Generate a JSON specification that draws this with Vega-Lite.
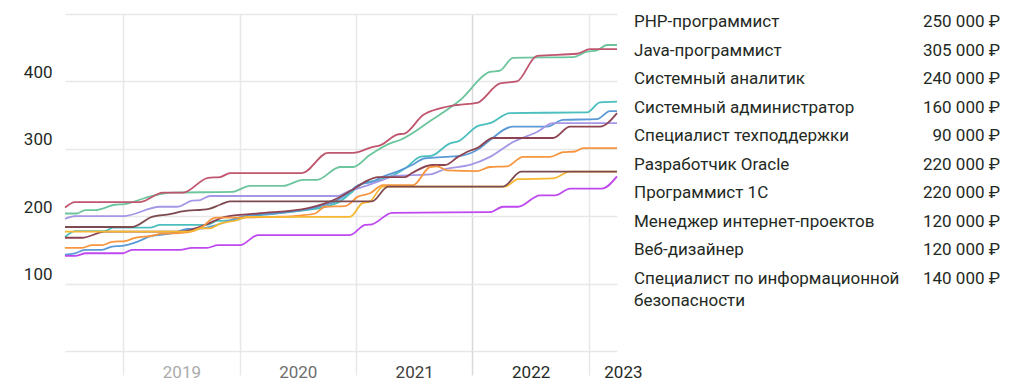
{
  "$schema": "https://vega.github.io/schema/vega-lite/v6.json",
  "padding": {"left": 23, "top": 13, "right": 10, "bottom": 5},
  "bounds": "flush",
  "spacing": 17,
  "config": {
    "view": {"stroke": null},
    "font": "Roboto",
    "locale": {"number": {"decimal": ",", "thousands": " ", "grouping": [3], "currency": ["", " ₽"]}}
  },
  "datasets": {
    "lines": [
      {"job": "PHP-программист", "year": 2018.500, "v": 204},
      {"job": "PHP-программист", "year": 2018.603, "v": 204},
      {"job": "PHP-программист", "year": 2018.672, "v": 209},
      {"job": "PHP-программист", "year": 2018.758, "v": 209},
      {"job": "PHP-программист", "year": 2018.930, "v": 217},
      {"job": "PHP-программист", "year": 2019.015, "v": 218},
      {"job": "PHP-программист", "year": 2019.187, "v": 227},
      {"job": "PHP-программист", "year": 2019.273, "v": 231},
      {"job": "PHP-программист", "year": 2019.419, "v": 235},
      {"job": "PHP-программист", "year": 2019.935, "v": 236},
      {"job": "PHP-программист", "year": 2020.089, "v": 245},
      {"job": "PHP-программист", "year": 2020.373, "v": 245},
      {"job": "PHP-программист", "year": 2020.545, "v": 254},
      {"job": "PHP-программист", "year": 2020.665, "v": 254},
      {"job": "PHP-программист", "year": 2020.863, "v": 273},
      {"job": "PHP-программист", "year": 2020.974, "v": 273},
      {"job": "PHP-программист", "year": 2021.120, "v": 291},
      {"job": "PHP-программист", "year": 2021.292, "v": 308},
      {"job": "PHP-программист", "year": 2021.378, "v": 313},
      {"job": "PHP-программист", "year": 2021.653, "v": 343},
      {"job": "PHP-программист", "year": 2021.893, "v": 372},
      {"job": "PHP-программист", "year": 2022.151, "v": 414},
      {"job": "PHP-программист", "year": 2022.237, "v": 416},
      {"job": "PHP-программист", "year": 2022.349, "v": 435},
      {"job": "PHP-программист", "year": 2022.864, "v": 436},
      {"job": "PHP-программист", "year": 2022.985, "v": 444},
      {"job": "PHP-программист", "year": 2023.070, "v": 446},
      {"job": "PHP-программист", "year": 2023.156, "v": 454},
      {"job": "PHP-программист", "year": 2023.242, "v": 454},

      {"job": "Java-программист", "year": 2018.500, "v": 213},
      {"job": "Java-программист", "year": 2018.586, "v": 221},
      {"job": "Java-программист", "year": 2019.144, "v": 221},
      {"job": "Java-программист", "year": 2019.342, "v": 235},
      {"job": "Java-программист", "year": 2019.514, "v": 235},
      {"job": "Java-программист", "year": 2019.729, "v": 257},
      {"job": "Java-программист", "year": 2019.832, "v": 258},
      {"job": "Java-программист", "year": 2019.918, "v": 264},
      {"job": "Java-программист", "year": 2020.536, "v": 264},
      {"job": "Java-программист", "year": 2020.759, "v": 294},
      {"job": "Java-программист", "year": 2020.974, "v": 294},
      {"job": "Java-программист", "year": 2021.146, "v": 303},
      {"job": "Java-программист", "year": 2021.206, "v": 305},
      {"job": "Java-программист", "year": 2021.352, "v": 321},
      {"job": "Java-программист", "year": 2021.421, "v": 323},
      {"job": "Java-программист", "year": 2021.576, "v": 350},
      {"job": "Java-программист", "year": 2021.722, "v": 360},
      {"job": "Java-программист", "year": 2021.868, "v": 365},
      {"job": "Java-программист", "year": 2022.040, "v": 368},
      {"job": "Java-программист", "year": 2022.237, "v": 397},
      {"job": "Java-программист", "year": 2022.383, "v": 400},
      {"job": "Java-программист", "year": 2022.555, "v": 438},
      {"job": "Java-программист", "year": 2022.899, "v": 441},
      {"job": "Java-программист", "year": 2023.010, "v": 448},
      {"job": "Java-программист", "year": 2023.242, "v": 448},

      {"job": "Системный аналитик", "year": 2018.500, "v": 169},
      {"job": "Системный аналитик", "year": 2018.586, "v": 178},
      {"job": "Системный аналитик", "year": 2018.844, "v": 178},
      {"job": "Системный аналитик", "year": 2018.912, "v": 183},
      {"job": "Системный аналитик", "year": 2019.230, "v": 183},
      {"job": "Системный аналитик", "year": 2019.316, "v": 187},
      {"job": "Системный аналитик", "year": 2019.720, "v": 187},
      {"job": "Системный аналитик", "year": 2019.806, "v": 193},
      {"job": "Системный аналитик", "year": 2019.943, "v": 194},
      {"job": "Системный аналитик", "year": 2020.064, "v": 199},
      {"job": "Системный аналитик", "year": 2020.304, "v": 204},
      {"job": "Системный аналитик", "year": 2020.519, "v": 208},
      {"job": "Системный аналитик", "year": 2020.734, "v": 214},
      {"job": "Системный аналитик", "year": 2020.863, "v": 222},
      {"job": "Системный аналитик", "year": 2020.966, "v": 236},
      {"job": "Системный аналитик", "year": 2021.052, "v": 248},
      {"job": "Системный аналитик", "year": 2021.206, "v": 254},
      {"job": "Системный аналитик", "year": 2021.335, "v": 262},
      {"job": "Системный аналитик", "year": 2021.438, "v": 273},
      {"job": "Системный аналитик", "year": 2021.550, "v": 288},
      {"job": "Системный аналитик", "year": 2021.653, "v": 290},
      {"job": "Системный аналитик", "year": 2021.808, "v": 308},
      {"job": "Системный аналитик", "year": 2021.876, "v": 311},
      {"job": "Системный аналитик", "year": 2022.048, "v": 334},
      {"job": "Системный аналитик", "year": 2022.151, "v": 338},
      {"job": "Системный аналитик", "year": 2022.323, "v": 353},
      {"job": "Системный аналитик", "year": 2022.985, "v": 354},
      {"job": "Системный аналитик", "year": 2023.096, "v": 369},
      {"job": "Системный аналитик", "year": 2023.242, "v": 370},

      {"job": "Системный администратор", "year": 2018.500, "v": 143},
      {"job": "Системный администратор", "year": 2018.586, "v": 145},
      {"job": "Системный администратор", "year": 2018.672, "v": 150},
      {"job": "Системный администратор", "year": 2018.818, "v": 150},
      {"job": "Системный администратор", "year": 2018.904, "v": 155},
      {"job": "Системный администратор", "year": 2018.990, "v": 156},
      {"job": "Системный администратор", "year": 2019.119, "v": 162},
      {"job": "Системный администратор", "year": 2019.230, "v": 170},
      {"job": "Системный администратор", "year": 2019.428, "v": 175},
      {"job": "Системный администратор", "year": 2019.548, "v": 181},
      {"job": "Системный администратор", "year": 2019.686, "v": 182},
      {"job": "Системный администратор", "year": 2019.806, "v": 187},
      {"job": "Системный администратор", "year": 2019.918, "v": 194},
      {"job": "Системный администратор", "year": 2020.046, "v": 200},
      {"job": "Системный администратор", "year": 2020.304, "v": 204},
      {"job": "Системный администратор", "year": 2020.536, "v": 209},
      {"job": "Системный администратор", "year": 2020.674, "v": 214},
      {"job": "Системный администратор", "year": 2020.820, "v": 222},
      {"job": "Системный администратор", "year": 2020.931, "v": 234},
      {"job": "Системный администратор", "year": 2021.017, "v": 246},
      {"job": "Системный администратор", "year": 2021.137, "v": 251},
      {"job": "Системный администратор", "year": 2021.223, "v": 258},
      {"job": "Системный администратор", "year": 2021.395, "v": 269},
      {"job": "Системный администратор", "year": 2021.481, "v": 276},
      {"job": "Системный администратор", "year": 2021.593, "v": 286},
      {"job": "Системный администратор", "year": 2021.765, "v": 288},
      {"job": "Системный администратор", "year": 2021.911, "v": 290},
      {"job": "Системный администратор", "year": 2022.065, "v": 301},
      {"job": "Системный администратор", "year": 2022.151, "v": 313},
      {"job": "Системный администратор", "year": 2022.349, "v": 333},
      {"job": "Системный администратор", "year": 2022.641, "v": 333},
      {"job": "Системный администратор", "year": 2022.778, "v": 343},
      {"job": "Системный администратор", "year": 2023.070, "v": 344},
      {"job": "Системный администратор", "year": 2023.182, "v": 356},
      {"job": "Системный администратор", "year": 2023.242, "v": 356},

      {"job": "Специалист техподдержки", "year": 2018.500, "v": 141},
      {"job": "Специалист техподдержки", "year": 2018.586, "v": 141},
      {"job": "Специалист техподдержки", "year": 2018.680, "v": 145},
      {"job": "Специалист техподдержки", "year": 2018.998, "v": 145},
      {"job": "Специалист техподдержки", "year": 2019.076, "v": 150},
      {"job": "Специалист техподдержки", "year": 2019.488, "v": 150},
      {"job": "Специалист техподдержки", "year": 2019.591, "v": 153},
      {"job": "Специалист техподдержки", "year": 2019.720, "v": 153},
      {"job": "Специалист техподдержки", "year": 2019.814, "v": 157},
      {"job": "Специалист техподдержки", "year": 2020.003, "v": 157},
      {"job": "Специалист техподдержки", "year": 2020.158, "v": 172},
      {"job": "Специалист техподдержки", "year": 2020.948, "v": 172},
      {"job": "Специалист техподдержки", "year": 2021.077, "v": 187},
      {"job": "Специалист техподдержки", "year": 2021.137, "v": 188},
      {"job": "Специалист техподдержки", "year": 2021.309, "v": 205},
      {"job": "Специалист техподдержки", "year": 2022.151, "v": 206},
      {"job": "Специалист техподдержки", "year": 2022.263, "v": 214},
      {"job": "Специалист техподдержки", "year": 2022.392, "v": 214},
      {"job": "Специалист техподдержки", "year": 2022.581, "v": 231},
      {"job": "Специалист техподдержки", "year": 2022.710, "v": 231},
      {"job": "Специалист техподдержки", "year": 2022.839, "v": 241},
      {"job": "Специалист техподдержки", "year": 2023.113, "v": 241},
      {"job": "Специалист техподдержки", "year": 2023.242, "v": 259},

      {"job": "Разработчик Oracle", "year": 2018.500, "v": 196},
      {"job": "Разработчик Oracle", "year": 2018.586, "v": 200},
      {"job": "Разработчик Oracle", "year": 2018.998, "v": 200},
      {"job": "Разработчик Oracle", "year": 2019.316, "v": 214},
      {"job": "Разработчик Oracle", "year": 2019.462, "v": 214},
      {"job": "Разработчик Oracle", "year": 2019.591, "v": 223},
      {"job": "Разработчик Oracle", "year": 2019.660, "v": 224},
      {"job": "Разработчик Oracle", "year": 2019.746, "v": 230},
      {"job": "Разработчик Oracle", "year": 2020.837, "v": 230},
      {"job": "Разработчик Oracle", "year": 2020.948, "v": 238},
      {"job": "Разработчик Oracle", "year": 2021.034, "v": 242},
      {"job": "Разработчик Oracle", "year": 2021.232, "v": 254},
      {"job": "Разработчик Oracle", "year": 2021.335, "v": 260},
      {"job": "Разработчик Oracle", "year": 2021.636, "v": 262},
      {"job": "Разработчик Oracle", "year": 2021.765, "v": 270},
      {"job": "Разработчик Oracle", "year": 2021.979, "v": 276},
      {"job": "Разработчик Oracle", "year": 2022.151, "v": 288},
      {"job": "Разработчик Oracle", "year": 2022.349, "v": 310},
      {"job": "Разработчик Oracle", "year": 2022.555, "v": 325},
      {"job": "Разработчик Oracle", "year": 2022.692, "v": 338},
      {"job": "Разработчик Oracle", "year": 2023.242, "v": 338},

      {"job": "Программист 1С", "year": 2018.500, "v": 168},
      {"job": "Программист 1С", "year": 2018.646, "v": 168},
      {"job": "Программист 1С", "year": 2018.844, "v": 177},
      {"job": "Программист 1С", "year": 2019.488, "v": 177},
      {"job": "Программист 1С", "year": 2019.703, "v": 187},
      {"job": "Программист 1С", "year": 2019.875, "v": 199},
      {"job": "Программист 1С", "year": 2020.158, "v": 204},
      {"job": "Программист 1С", "year": 2020.588, "v": 212},
      {"job": "Программист 1С", "year": 2020.734, "v": 219},
      {"job": "Программист 1С", "year": 2020.845, "v": 227},
      {"job": "Программист 1С", "year": 2020.966, "v": 239},
      {"job": "Программист 1С", "year": 2021.077, "v": 251},
      {"job": "Программист 1С", "year": 2021.189, "v": 258},
      {"job": "Программист 1С", "year": 2021.421, "v": 258},
      {"job": "Программист 1С", "year": 2021.481, "v": 264},
      {"job": "Программист 1С", "year": 2021.653, "v": 276},
      {"job": "Программист 1С", "year": 2021.765, "v": 276},
      {"job": "Программист 1С", "year": 2021.876, "v": 288},
      {"job": "Программист 1С", "year": 2021.962, "v": 296},
      {"job": "Программист 1С", "year": 2022.040, "v": 301},
      {"job": "Программист 1С", "year": 2022.177, "v": 316},
      {"job": "Программист 1С", "year": 2022.692, "v": 316},
      {"job": "Программист 1С", "year": 2022.839, "v": 333},
      {"job": "Программист 1С", "year": 2023.096, "v": 333},
      {"job": "Программист 1С", "year": 2023.242, "v": 353},

      {"job": "Менеджер интернет-проектов", "year": 2018.500, "v": 153},
      {"job": "Менеджер интернет-проектов", "year": 2018.646, "v": 153},
      {"job": "Менеджер интернет-проектов", "year": 2018.732, "v": 157},
      {"job": "Менеджер интернет-проектов", "year": 2018.818, "v": 157},
      {"job": "Менеджер интернет-проектов", "year": 2018.904, "v": 162},
      {"job": "Менеджер интернет-проектов", "year": 2019.015, "v": 163},
      {"job": "Менеджер интернет-проектов", "year": 2019.101, "v": 168},
      {"job": "Менеджер интернет-проектов", "year": 2019.247, "v": 171},
      {"job": "Менеджер интернет-проектов", "year": 2019.333, "v": 174},
      {"job": "Менеджер интернет-проектов", "year": 2019.479, "v": 175},
      {"job": "Менеджер интернет-проектов", "year": 2019.600, "v": 178},
      {"job": "Менеджер интернет-проектов", "year": 2019.686, "v": 185},
      {"job": "Менеджер интернет-проектов", "year": 2019.763, "v": 196},
      {"job": "Менеджер интернет-проектов", "year": 2019.806, "v": 198},
      {"job": "Менеджер интернет-проектов", "year": 2020.003, "v": 198},
      {"job": "Менеджер интернет-проектов", "year": 2020.304, "v": 199},
      {"job": "Менеджер интернет-проектов", "year": 2020.519, "v": 201},
      {"job": "Менеджер интернет-проектов", "year": 2020.648, "v": 204},
      {"job": "Менеджер интернет-проектов", "year": 2020.734, "v": 214},
      {"job": "Менеджер интернет-проектов", "year": 2020.906, "v": 215},
      {"job": "Менеджер интернет-проектов", "year": 2021.017, "v": 229},
      {"job": "Менеджер интернет-проектов", "year": 2021.120, "v": 234},
      {"job": "Менеджер интернет-проектов", "year": 2021.232, "v": 246},
      {"job": "Менеджер интернет-проектов", "year": 2021.490, "v": 246},
      {"job": "Менеджер интернет-проектов", "year": 2021.636, "v": 273},
      {"job": "Менеджер интернет-проектов", "year": 2021.696, "v": 274},
      {"job": "Менеджер интернет-проектов", "year": 2021.782, "v": 268},
      {"job": "Менеджер интернет-проектов", "year": 2022.040, "v": 267},
      {"job": "Менеджер интернет-проектов", "year": 2022.151, "v": 273},
      {"job": "Менеджер интернет-проектов", "year": 2022.297, "v": 274},
      {"job": "Менеджер интернет-проектов", "year": 2022.435, "v": 288},
      {"job": "Менеджер интернет-проектов", "year": 2022.667, "v": 288},
      {"job": "Менеджер интернет-проектов", "year": 2022.778, "v": 295},
      {"job": "Менеджер интернет-проектов", "year": 2022.881, "v": 296},
      {"job": "Менеджер интернет-проектов", "year": 2022.950, "v": 301},
      {"job": "Менеджер интернет-проектов", "year": 2023.242, "v": 301},

      {"job": "Веб-дизайнер", "year": 2018.500, "v": 177},
      {"job": "Веб-дизайнер", "year": 2019.574, "v": 177},
      {"job": "Веб-дизайнер", "year": 2019.660, "v": 182},
      {"job": "Веб-дизайнер", "year": 2019.746, "v": 182},
      {"job": "Веб-дизайнер", "year": 2019.832, "v": 189},
      {"job": "Веб-дизайнер", "year": 2019.978, "v": 194},
      {"job": "Веб-дизайнер", "year": 2020.064, "v": 199},
      {"job": "Веб-дизайнер", "year": 2020.948, "v": 199},
      {"job": "Веб-дизайнер", "year": 2021.052, "v": 219},
      {"job": "Веб-дизайнер", "year": 2021.120, "v": 222},
      {"job": "Веб-дизайнер", "year": 2021.232, "v": 244},
      {"job": "Веб-дизайнер", "year": 2022.280, "v": 244},
      {"job": "Веб-дизайнер", "year": 2022.392, "v": 255},
      {"job": "Веб-дизайнер", "year": 2022.692, "v": 256},
      {"job": "Веб-дизайнер", "year": 2022.839, "v": 266},
      {"job": "Веб-дизайнер", "year": 2023.242, "v": 266},

      {"job": "Специалист по информационной безопасности", "year": 2018.500, "v": 184},
      {"job": "Специалист по информационной безопасности", "year": 2019.076, "v": 184},
      {"job": "Специалист по информационной безопасности", "year": 2019.247, "v": 199},
      {"job": "Специалист по информационной безопасности", "year": 2019.402, "v": 203},
      {"job": "Специалист по информационной безопасности", "year": 2019.505, "v": 207},
      {"job": "Специалист по информационной безопасности", "year": 2019.737, "v": 211},
      {"job": "Специалист по информационной безопасности", "year": 2019.832, "v": 217},
      {"job": "Специалист по информационной безопасности", "year": 2019.918, "v": 222},
      {"job": "Специалист по информационной безопасности", "year": 2021.137, "v": 222},
      {"job": "Специалист по информационной безопасности", "year": 2021.275, "v": 244},
      {"job": "Специалист по информационной безопасности", "year": 2022.263, "v": 244},
      {"job": "Специалист по информационной безопасности", "year": 2022.418, "v": 266},
      {"job": "Специалист по информационной безопасности", "year": 2023.242, "v": 266}
    ],
    "table": [
      {"rank": 1, "name": "PHP-программист", "salary": 250000},
      {"rank": 2, "name": "Java-программист", "salary": 305000},
      {"rank": 3, "name": "Системный аналитик", "salary": 240000},
      {"rank": 4, "name": "Системный администратор", "salary": 160000},
      {"rank": 5, "name": "Специалист техподдержки", "salary": 90000},
      {"rank": 6, "name": "Разработчик Oracle", "salary": 220000},
      {"rank": 7, "name": "Программист 1С", "salary": 220000},
      {"rank": 8, "name": "Менеджер интернет-проектов", "salary": 120000},
      {"rank": 9, "name": "Веб-дизайнер", "salary": 120000},
      {"rank": 10, "name": "Специалист по информационной\nбезопасности", "salary": 140000}
    ]
  },
  "hconcat": [
    {
      "width": 552,
      "height": 337,
      "data": {"name": "lines"},
      "mark": {"type": "line", "interpolate": "monotone", "strokeWidth": 1.8},
      "encoding": {
        "x": {
          "field": "year",
          "type": "quantitative",
          "scale": {"domain": [2018.5, 2023.242], "nice": false, "zero": false},
          "axis": {
            "title": null,
            "values": [2019, 2019.5, 2020, 2020.5, 2021, 2021.5, 2022, 2022.5, 2023, 2023.242],
            "labelExpr": "datum.value % 1 == 0 ? '' : '' + floor(datum.value)",
            "domain": false,
            "grid": true,
            "gridColor": {"condition": [{"test": "datum.value == 2022", "value": "#d9d9d9"}, {"test": "datum.value % 1 == 0", "value": "#e8e8e8"}], "value": "transparent"},
            "gridWidth": 1.5,
            "ticks": true,
            "tickSize": 24,
            "tickWidth": 1.5,
            "tickColor": {"condition": [{"test": "datum.value == 2022", "value": "#d9d9d9"}, {"test": "datum.value % 1 == 0", "value": "#e8e8e8"}], "value": "transparent"},
            "labelPadding": -11,
            "labelFont": "Roboto",
            "labelFontSize": 17,
            "labelColor": {"condition": [{"test": "datum.value < 2020", "value": "#ababab"}, {"test": "datum.value < 2021", "value": "#6e6e6e"}, {"test": "datum.value < 2022", "value": "#404040"}], "value": "#1f2a24"},
            "labelFlush": true,
            "labelFlushOffset": 25,
            "labelOverlap": false,
            "labelBound": false
          }
        },
        "y": {
          "field": "v",
          "type": "quantitative",
          "scale": {"domain": [0, 500], "nice": false, "zero": true},
          "axis": {
            "title": null,
            "values": [0, 100, 200, 300, 400, 500],
            "labelExpr": "datum.value == 0 || datum.value == 500 ? '' : datum.label",
            "domain": false,
            "ticks": false,
            "grid": true,
            "gridColor": "#e8e8e8",
            "gridWidth": 1.5,
            "labelPadding": 13,
            "labelFont": "Roboto",
            "labelFontSize": 17,
            "labelColor": "#1f2a24",
            "labelBaseline": "alphabetic",
            "labelOffset": -4
          }
        },
        "color": {
          "field": "job",
          "type": "nominal",
          "sort": null,
          "scale": {
            "domain": ["PHP-программист", "Java-программист", "Системный аналитик", "Системный администратор", "Специалист техподдержки", "Разработчик Oracle", "Программист 1С", "Менеджер интернет-проектов", "Веб-дизайнер", "Специалист по информационной безопасности"],
            "range": ["#6cc59d", "#c0566e", "#4bbfbd", "#5b9ad6", "#bf49ee", "#a597e6", "#8c4452", "#f7963f", "#f6b731", "#7d4a4f"]
          },
          "legend": null
        }
      }
    },
    {
      "width": 366,
      "height": 257,
      "data": {"name": "table"},
      "layer": [
        {
          "mark": {"type": "text", "align": "left", "baseline": "alphabetic", "dy": 13, "font": "Roboto", "fontSize": 17, "color": "#1f2a24", "lineBreak": "\n", "lineHeight": 22},
          "encoding": {
            "y": {"field": "rank", "type": "ordinal", "scale": {"type": "point", "padding": 0}, "axis": null},
            "x": {"datum": 0, "type": "quantitative", "scale": {"domain": [0, 1], "nice": false, "zero": false}, "axis": null},
            "text": {"field": "name", "type": "nominal"}
          }
        },
        {
          "mark": {"type": "text", "align": "right", "baseline": "alphabetic", "dy": 13, "font": "Roboto", "fontSize": 17, "color": "#1f2a24"},
          "encoding": {
            "y": {"field": "rank", "type": "ordinal", "scale": {"type": "point", "padding": 0}, "axis": null},
            "x": {"datum": 1, "type": "quantitative", "scale": {"domain": [0, 1], "nice": false, "zero": false}, "axis": null},
            "text": {"field": "salary", "type": "quantitative", "format": "$,d"}
          }
        }
      ]
    }
  ]
}
